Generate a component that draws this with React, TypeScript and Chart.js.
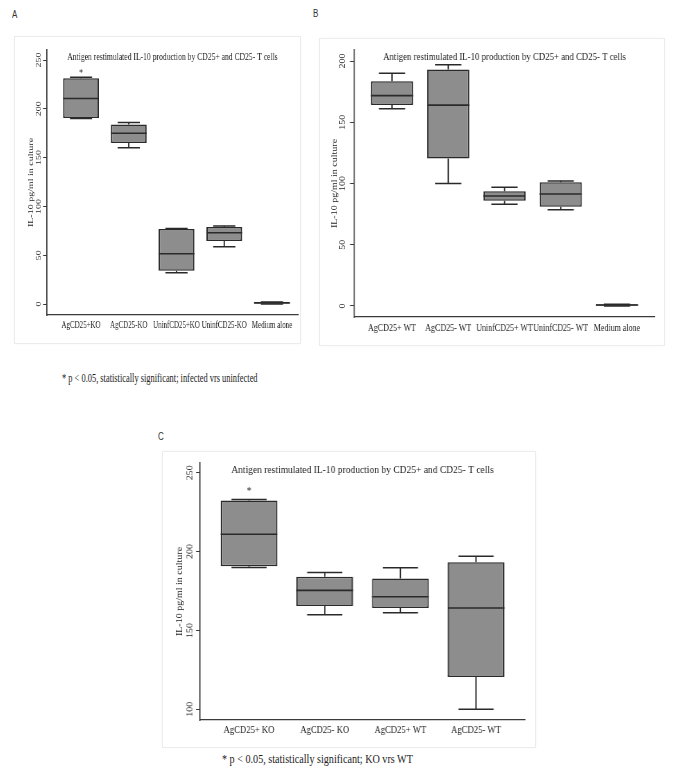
import React, { useEffect, useRef } from "react";
import { Chart, registerables } from "chart.js";

Chart.register(...registerables);

const SERIF = "'Liberation Serif', 'Times New Roman', serif";
const SANS = "'Liberation Sans', Arial, sans-serif";
const FILL = "#8d8d8d";
const STROKE = "#2a2a2a";
const AXIS = "#3a3a3a";
const TEXT = "#222222";

const TITLE = "Antigen restimulated IL-10 production by CD25+ and CD25- T cells";
const Y_TITLE = "IL-10 pg/ml in culture";

// ---- Panel A (KO) ----
const categoriesA = ["AgCD25+KO", "AgCD25-KO", "UninfCD25+KO", "UninfCD25-KO", "Medium alone"];
const minA = [190, 160, 32, 58.6, 0];
const q1A = [190.5, 165, 34, 64.5, 0];
const medianA = [210.5, 175, 51.5, 73, 1];
const q3A = [231.3, 184, 76.8, 79, 2];
const maxA = [232.4, 186, 77.3, 80, 2];
const starA = [237, null, null, null, null];
const yTicksA = [0, 50, 100, 150, 200, 250];

// ---- Panel B (WT) ----
const categoriesB = ["AgCD25+ WT", "AgCD25- WT", "UninfCD25+ WT", "UninfCD25- WT", "Medium alone"];
const minB = [161, 100, 83, 78.6, 0];
const q1B = [164, 120.5, 86, 81, 0.2];
const medianB = [171.7, 164, 89.8, 91.4, 0.8];
const q3B = [183.4, 193, 93.6, 101, 1.5];
const maxB = [190, 197, 97, 102, 1.5];
const starB = [null, null, null, null, null];
const yTicksB = [0, 50, 100, 150, 200];

// ---- Panel C (KO vs WT) ----
const categoriesC = ["AgCD25+ KO", "AgCD25- KO", "AgCD25+ WT", "AgCD25- WT"];
const minC = [190, 160, 161.2, 100];
const q1C = [190.7, 165.5, 164.2, 120.5];
const medianC = [211, 175.4, 171.4, 164.2];
const q3C = [232.4, 184, 183, 193.2];
const maxC = [233, 186.7, 189.8, 197];
const starC = [238.5, null, null, null];
const yTicksC = [100, 150, 200, 250];

// ---- layout (screen px) ----
const layoutA = {
  left: 15, top: 37, width: 285, height: 306, sx: 0.693,
  plotLeft: 32, plotRight: 283, plotTop: 13, plotBottom: 278, titleCenterY: 20,
  xMin: -0.712, xMax: 4.545, yMin: -11.27, yMax: 260.25,
  yLabelGap: 8, yTitleX: 16, xLabelPad: 4,
};
const layoutB = {
  left: 320, top: 39, width: 344, height: 306, sx: 0.8,
  plotLeft: 34, plotRight: 335, plotTop: 11, plotBottom: 278, titleCenterY: 18,
  xMin: -0.676, xMax: 4.676, yMin: -8.98, yMax: 208.98,
  yLabelGap: 11, yTitleX: 15, xLabelPad: 5,
};
const layoutC = {
  left: 163, top: 452, width: 372, height: 295, sx: 0.865,
  plotLeft: 37, plotRight: 362, plotTop: 11, plotBottom: 268, titleCenterY: 18,
  xMin: -0.648, xMax: 3.647, yMin: 93.2, yMax: 256.2,
  yLabelGap: 10, yTitleX: 17, xLabelPad: 4,
};

type Layout = typeof layoutA;

interface PanelProps {
  L: Layout;
  cats: string[];
  mins: number[];
  q1s: number[];
  meds: number[];
  q3s: number[];
  maxs: number[];
  stars: (number | null)[];
  yTicks: number[];
}

function BoxPanel({ L, cats, mins, q1s, meds, q3s, maxs, stars, yTicks }: PanelProps) {
  const ref = useRef<HTMLCanvasElement>(null);
  const W = Math.round(L.width / L.sx);
  const sx = L.width / W;

  useEffect(() => {
    const canvas = ref.current;
    if (!canvas) return;
    const tl = 4 / sx;

    const whiskers = {
      id: "whiskers",
      afterDatasetsDraw(chart: any) {
        const ctx = chart.ctx;
        const ys = chart.scales.y;
        const meta = chart.getDatasetMeta(0);
        ctx.save();
        ctx.strokeStyle = STROKE;
        meta.data.forEach((el: any, i: number) => {
          const cx = el.x;
          const half = el.width / 2;
          const cap = half * 0.62;
          const pMin = ys.getPixelForValue(mins[i]);
          const pQ1 = ys.getPixelForValue(q1s[i]);
          const pMed = ys.getPixelForValue(meds[i]);
          const pQ3 = ys.getPixelForValue(q3s[i]);
          const pMax = ys.getPixelForValue(maxs[i]);
          ctx.lineWidth = 1.3 / sx;
          ctx.beginPath();
          ctx.moveTo(cx, pQ3);
          ctx.lineTo(cx, pMax);
          ctx.moveTo(cx, pQ1);
          ctx.lineTo(cx, pMin);
          ctx.stroke();
          ctx.lineWidth = 1.5;
          ctx.beginPath();
          ctx.moveTo(cx - cap, pMax);
          ctx.lineTo(cx + cap, pMax);
          ctx.moveTo(cx - cap, pMin);
          ctx.lineTo(cx + cap, pMin);
          ctx.stroke();
          ctx.lineWidth = 1.6;
          ctx.beginPath();
          ctx.moveTo(cx - half, pMed);
          ctx.lineTo(cx + half, pMed);
          ctx.stroke();
        });
        ctx.fillStyle = TEXT;
        ctx.font = `11px ${SERIF}`;
        ctx.textAlign = "center";
        ctx.textBaseline = "middle";
        stars.forEach((v, i) => {
          if (v == null) return;
          const el: any = meta.data[i];
          ctx.fillText("*", el.x, ys.getPixelForValue(v));
        });
        ctx.restore();
      },
    };

    const titlePadTop = L.titleCenterY - 6.6;
    const titlePadBottom = L.plotTop - 13.2 - titlePadTop;

    const chart = new Chart(canvas, {
      type: "bar",
      data: {
        datasets: [
          {
            data: cats.map((_, i) => ({ x: i, y: [q1s[i], q3s[i]] })) as any,
            backgroundColor: FILL,
            borderColor: STROKE,
            borderWidth: { top: 1.5, bottom: 1.5, left: 1.5 / sx, right: 1.5 / sx } as any,
            borderSkipped: false,
            barPercentage: 0.75,
            categoryPercentage: 1,
          },
        ],
      },
      options: {
        animation: false,
        responsive: false,
        events: [],
        layout: { padding: { left: 0, right: W - L.plotRight / sx, top: 0, bottom: 0 } },
        plugins: {
          legend: { display: false },
          tooltip: { enabled: false },
          title: {
            display: true,
            text: TITLE,
            fullSize: false,
            color: TEXT,
            font: { family: SERIF, size: 11, weight: "normal" },
            padding: { top: titlePadTop, bottom: titlePadBottom },
          },
        },
        scales: {
          x: {
            type: "linear",
            offset: false,
            min: L.xMin,
            max: L.xMax,
            afterBuildTicks: (ax: any) => {
              ax.ticks = cats.map((_, i) => ({ value: i }));
            },
            afterFit: (ax: any) => {
              ax.height = L.height - L.plotBottom;
            },
            grid: { display: false, drawTicks: false },
            border: { display: true, color: AXIS, width: 1.2 },
            ticks: {
              autoSkip: false,
              minRotation: 0,
              maxRotation: 0,
              padding: L.xLabelPad,
              color: TEXT,
              font: { family: SERIF, size: 10 },
              callback: (v: any) => cats[Math.round(Number(v))] ?? "",
            },
          },
          y: {
            type: "linear",
            beginAtZero: false,
            min: L.yMin,
            max: L.yMax,
            afterBuildTicks: (ax: any) => {
              ax.ticks = yTicks.map((v) => ({ value: v }));
            },
            afterFit: (ax: any) => {
              ax.width = L.plotLeft / sx;
            },
            grid: {
              display: true,
              drawOnChartArea: false,
              drawTicks: true,
              tickLength: tl,
              color: AXIS,
              lineWidth: 1,
            },
            border: { display: true, color: AXIS, width: 1.2 / sx },
            ticks: {
              minRotation: 90,
              maxRotation: 90,
              crossAlign: "center",
              padding: L.yLabelGap / sx - tl - 7.5,
              color: TEXT,
              font: { family: SERIF, size: 10 },
            },
            title: {
              display: true,
              text: Y_TITLE,
              color: TEXT,
              font: { family: SERIF, size: 10 },
              padding: { top: L.yTitleX / sx - 6, bottom: 0 },
            },
          },
        },
      } as any,
      plugins: [whiskers],
    });
    return () => chart.destroy();
  }, []);

  return (
    <div
      style={{
        position: "absolute",
        left: L.left,
        top: L.top,
        width: L.width,
        height: L.height,
        background: "#ffffff",
        boxShadow: "0 0 0 1px #ececec, 0 0 4px rgba(0,0,0,0.06)",
      }}
    >
      <div style={{ width: W, height: L.height, transform: `scaleX(${sx})`, transformOrigin: "0 0" }}>
        <canvas ref={ref} width={W} height={L.height} style={{ display: "block", width: W, height: L.height }} />
      </div>
    </div>
  );
}

function Note({ x, cy, s, text }: { x: number; cy: number; s: number; text: string }) {
  return (
    <div
      style={{
        position: "absolute",
        left: x,
        top: cy - 7,
        height: 14,
        lineHeight: "14px",
        fontFamily: SERIF,
        fontSize: 12,
        color: TEXT,
        whiteSpace: "nowrap",
        transform: `scaleX(${s})`,
        transformOrigin: "0 50%",
      }}
    >
      {text}
    </div>
  );
}

function PanelLetter({ x, cy, text }: { x: number; cy: number; text: string }) {
  return (
    <div
      style={{
        position: "absolute",
        left: x,
        top: cy - 6,
        height: 12,
        lineHeight: "12px",
        fontFamily: SANS,
        fontSize: 10,
        color: "#333",
        transform: "scaleX(0.8)",
        transformOrigin: "0 50%",
      }}
    >
      {text}
    </div>
  );
}

export default function App() {
  return (
    <div style={{ position: "absolute", left: 0, top: 0, width: 685, height: 779, background: "#fff", overflow: "hidden" }}>
      <PanelLetter x={12} cy={15} text="A" />
      <PanelLetter x={313} cy={14} text="B" />
      <PanelLetter x={158} cy={437} text="C" />
      <BoxPanel L={layoutA} cats={categoriesA} mins={minA} q1s={q1A} meds={medianA} q3s={q3A} maxs={maxA} stars={starA} yTicks={yTicksA} />
      <BoxPanel L={layoutB} cats={categoriesB} mins={minB} q1s={q1B} meds={medianB} q3s={q3B} maxs={maxB} stars={starB} yTicks={yTicksB} />
      <BoxPanel L={layoutC} cats={categoriesC} mins={minC} q1s={q1C} meds={medianC} q3s={q3C} maxs={maxC} stars={starC} yTicks={yTicksC} />
      <Note x={62} cy={378} s={0.7} text="* p < 0.05, statistically significant; infected vrs uninfected" />
      <Note x={222} cy={759} s={0.845} text="* p < 0.05, statistically significant; KO vrs WT" />
    </div>
  );
}
